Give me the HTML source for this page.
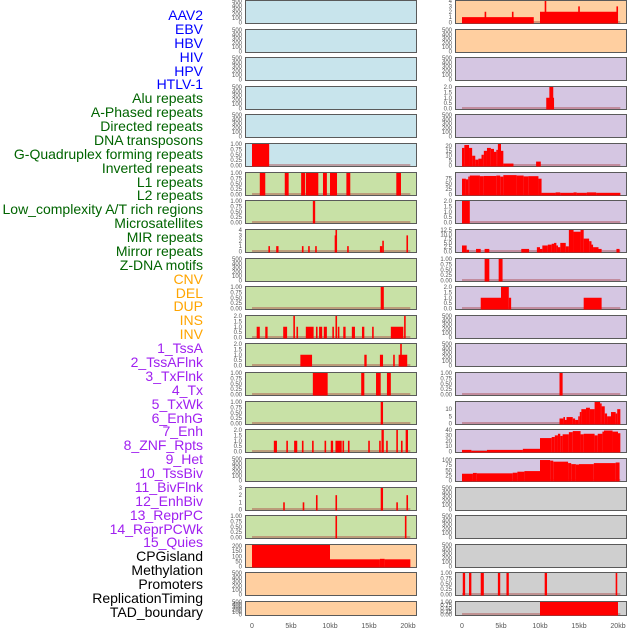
<!DOCTYPE html>
<html><head><meta charset="utf-8"><style>
html,body{margin:0;padding:0;background:#fff;}
#wrap{position:relative;width:630px;height:630px;overflow:hidden;font-family:"Liberation Sans",sans-serif;}
.lab{position:absolute;right:427px;font-size:14px;line-height:14px;white-space:nowrap;}
svg{position:absolute;left:0;top:0;}
</style></head><body>
<div id="wrap">
<svg id="chart" width="630" height="630"></svg>
</div>
<script>
// Feature labels
const labels = ["AAV2","EBV","HBV","HIV","HPV","HTLV-1","Alu repeats","A-Phased repeats","Directed repeats","DNA transposons","G-Quadruplex forming repeats","Inverted repeats","L1 repeats","L2 repeats","Low_complexity A/T rich regions","Microsatellites","MIR repeats","Mirror repeats","Z-DNA motifs","CNV","DEL","DUP","INS","INV","1_TssA","2_TssAFlnk","3_TxFlnk","4_Tx","5_TxWk","6_EnhG","7_Enh","8_ZNF_Rpts","9_Het","10_TssBiv","11_BivFlnk","12_EnhBiv","13_ReprPC","14_ReprPCWk","15_Quies","CPGisland","Methylation","Promoters","ReplicationTiming","TAD_boundary"];
const labelColors = {virus:"#0000ff",rep:"#006400",cnv:"#ffa500",st:"#a020f0",oth:"#000000"};
const xTicks = [0,5,10,15,20];
const xTickLabels = ["0","5kb","10kb","15kb","20kb"];
// bars: [startKb, endKb, value]
const L5 = [[0,2.2,1]];
const L6 = [[1.0,1.7,1],[4.2,4.7,1],[6.3,6.8,1],[6.9,8.5,1],[9.1,9.6,1],[10,10.9,1],[12.1,12.6,1],[18.5,19.1,1]];
const L7 = [[7.8,8.1,1]];
const L8 = [[2.1,2.3,1],[3.1,3.4,1],[6.4,6.6,1],[7.2,7.4,1],[8.1,8.3,1],[10.6,10.7,3],[10.7,10.9,4],[12.2,12.4,1],[16.4,16.7,1],[16.7,16.9,2],[19.8,20,3]];
const L10 = [[16.5,16.9,1]];
const L11 = [[0.6,1.0,1],[1.7,2.0,1],[4.0,4.5,1],[5.3,5.5,2],[5.7,5.9,1],[6.9,7.9,1],[8.2,8.4,1],[8.6,9.0,1],[9.2,9.6,1],[10.3,10.5,1],[10.7,10.9,2],[11.0,11.2,1],[11.7,12.0,1],[12.8,13.2,1],[14.1,14.4,1],[15.4,15.6,1],[17.8,19.4,1],[19.5,19.7,2]];
const L12 = [[6.2,7.7,1],[14.4,14.7,1],[16.4,16.8,1],[18.1,18.3,1],[18.8,19.9,1],[19.0,19.2,2]];
const L13 = [[7.8,9.7,1],[14.0,14.4,1],[15.9,16.5,1],[17.3,17.8,1]];
const L14 = [[16.5,16.8,1]];
const L15 = [[2.8,3.2,1],[4.4,4.6,1],[5.4,5.8,1],[6.4,6.6,1],[7.7,7.9,1],[9.3,9.5,1],[10.1,10.4,1],[10.7,11.5,1],[11.6,11.8,1],[12.3,12.5,1],[14.9,15.1,1],[16.3,16.5,1],[16.6,16.9,2],[17.2,17.4,1],[18.5,18.7,2],[19.1,19.3,1],[19.7,20,2]];
const L17 = [[4.0,4.2,1],[6.5,6.7,1],[8.2,8.4,2],[10.7,10.9,2],[16.5,16.8,3],[18.5,18.7,1],[19.8,20,2]];
const L18 = [[10.7,10.9,1],[19.6,19.8,1]];
const L19 = [[0,10,210],[10,16.4,70],[16.4,17,75],[17,20.3,70]];
const R0 = [[0,9.2,1],[2.9,3.1,2],[6.4,6.6,2],[10,20,2],[10.6,10.8,4],[14.9,15.1,3],[19.8,20,3]];
const R3 = [[10.8,11.8,1],[11.2,11.7,2]];
const R5 = [[0,0.3,18],[0.3,0.9,21],[0.9,1.3,18],[1.3,1.7,10],[1.7,2.1,6],[2.1,2.5,7],[2.5,2.8,11],[2.8,3.2,15],[3.2,3.7,18],[3.7,4.1,17],[4.1,4.4,14],[4.4,4.6,16],[4.6,5.0,22],[5.0,5.3,15],[5.3,6.6,2],[9.5,10.1,4]];
const R6 = [[0,0.5,75],[0.5,0.8,72],[0.8,1.0,85],[1.0,2.3,90],[2.3,2.8,87],[2.8,4.4,88],[4.4,4.9,90],[4.9,5.3,85],[5.3,7.0,92],[7.0,7.9,90],[7.9,8.5,86],[8.5,9.8,87],[9.8,10.2,75],[10.2,12,8],[12,12.6,10],[12.6,14.3,8],[14.3,14.7,10],[14.7,16,8],[16,17.2,10],[17.2,20.3,8]];
const R7 = [[0,1,2]];
const R8 = [[0,0.6,3.5],[0.6,0.9,1],[1.8,2.4,1.5],[2.9,3.5,1.5],[7.6,8.6,1.5],[9.6,10,2.5],[10,10.3,1.5],[10.3,11,3.5],[11,11.5,4],[11.5,11.8,4.5],[11.8,12.1,5],[12.1,12.3,3.5],[12.3,12.6,2.5],[12.6,13.3,5],[13.3,13.7,3],[13.7,14.3,12.5],[14.3,15.2,11.5],[15.2,15.6,12.5],[15.6,16.3,7.5],[16.3,16.6,6],[16.6,16.8,4],[16.8,17.5,2.5],[17.5,17.9,1.5],[19.8,20.2,1.5]];
const R9 = [[2.9,3.5,1],[4.7,5.2,1]];
const R10 = [[2.4,5,1],[5,6,2],[6,6.3,1],[15.6,17.9,1]];
const R13 = [[12.5,12.9,1]];
const R14 = [[12.5,13,3.5],[13,13.2,4.5],[13.2,13.4,2.5],[13.4,14.2,4.5],[14.2,14.5,3.5],[14.5,14.9,2.5],[14.9,15.1,5],[15.1,15.3,8],[15.3,15.9,10],[15.9,16.4,11],[16.4,17,10],[17,17.7,15],[17.7,17.9,14],[17.9,18.3,12],[18.3,18.6,7],[18.6,19.1,5],[19.1,19.7,8],[19.7,19.9,7],[19.9,20.3,10]];
const R15 = [[0,1.2,3],[1.2,3.2,1],[3.2,7.8,3],[7.8,10,5],[10,11.5,25],[11.5,11.9,27],[11.9,12.3,30],[12.3,12.6,33],[12.6,12.9,29],[12.9,13.7,32],[13.7,14.2,36],[14.2,15.2,38],[15.2,15.6,32],[15.6,17,33],[17,17.4,30],[17.4,18,33],[18,18.2,37],[18.2,19.3,39],[19.3,20,37],[20,20.3,34]];
const R16 = [[0,1.4,33],[1.4,1.9,37],[1.9,6.5,35],[6.5,7.1,38],[7.1,8,43],[8,10,46],[10,11.3,100],[11.3,11.7,97],[11.7,13.6,92],[13.6,14,85],[14,14.6,80],[14.6,15,78],[15,16.9,80],[16.9,19.7,85],[19.7,20.2,88]];
const R20 = [[0.1,0.4,1],[0.9,1.2,1],[2.4,2.8,1],[4.6,4.9,1],[5.7,6.0,1],[10.6,10.9,1],[19.7,19.9,1]];
const R21 = [[10,20,1]];

const BLUE="#c8e4ec",GREEN="#c8e1a6",ORANGE="#ffcfa0",PURPLE="#d5c6e2",GREY="#cfcfcf";
const T500=[0,100,200,300,400,500], T1=[0,0.25,0.5,0.75,1], T2=[0,0.5,1,1.5,2];
const leftBg=[BLUE,BLUE,BLUE,BLUE,BLUE,BLUE,GREEN,GREEN,GREEN,GREEN,GREEN,GREEN,GREEN,GREEN,GREEN,GREEN,GREEN,GREEN,GREEN,ORANGE,ORANGE,ORANGE];
const rightBg=[ORANGE,ORANGE,PURPLE,PURPLE,PURPLE,PURPLE,PURPLE,PURPLE,PURPLE,PURPLE,PURPLE,PURPLE,PURPLE,PURPLE,PURPLE,PURPLE,PURPLE,GREY,GREY,GREY,GREY,GREY];
const leftData=[null,null,null,null,null,L5,L6,L7,L8,null,L10,L11,L12,L13,L14,L15,null,L17,L18,L19,null,null];
const rightData=[R0,null,null,R3,null,R5,R6,R7,R8,R9,R10,null,null,R13,R14,R15,R16,null,null,null,R20,R21];
const leftTicks=[T500,T500,T500,T500,T500,T1,T1,T1,[0,1,2,3,4],T500,T1,T2,T2,T1,T1,T2,T500,[0,1,2,3],T1,[0,50,100,150,200],T500,T500];
const leftMax=[500,500,500,500,500,1,1,1,4,500,1,2,2,1,1,2,500,3,1,210,500,500];
const rightTicks=[[0,1,2,3,4],T500,T500,T2,T500,[0,5,10,15,20],[0,25,50,75],T2,[0,2.5,5,7.5,10,12.5],T1,T2,T500,T500,T1,[0,5,10],[0,10,20,30,40],[0,25,50,75,100],T500,T500,T500,T1,T1];
const rightMax=[4,500,500,2,500,22,102,2,12.5,1,2,500,500,1,15,40,105,500,500,500,1,1];
const tickFmt={};

const svg=document.getElementById('chart');
const NS="http://www.w3.org/2000/svg";
function mk(tag,attrs){const e=document.createElementNS(NS,tag);for(const k in attrs)e.setAttribute(k,attrs[k]);return e;}
function rowTop(i){return Math.round(i*28.62);}
function rowH(i){return i===21?15:24;}
function fmt(v,ticks){
  const maxT=ticks[ticks.length-1];
  if(ticks.includes(0.25)) return v.toFixed(2);
  if(ticks.includes(0.5)||ticks.includes(2.5)) return v.toFixed(1);
  return String(v);
}
function drawCol(colX0,frameL,frameR,bgs,datas,ticksArr,maxes,side){
  const xs=kb=>colX0+kb*7.8;
  for(let i=0;i<22;i++){
    const top=rowTop(i),h=rowH(i);
    const y0=top+h-1.5,y1=top+1;
    const ys=v=>y0-(v/maxes[i])*(y0-y1);
    const g=mk('g',{});
    
    
    const r=mk('rect',{x:frameL+0.5,y:top+0.5,width:frameR-frameL-1,height:h-1,fill:bgs[i],stroke:'#5a5a5a','stroke-width':1});
    
    
    g.appendChild(r);
    const d=datas[i];
    if(d){
      const bl=mk('line',{x1:xs(0),x2:xs(20.3),y1:y0-0.5,y2:y0-0.5,stroke:'rgba(170,60,60,0.55)','stroke-width':1.5});
      
      
      g.appendChild(bl);
      d.forEach(b=>{
        const x=xs(b[0]),w=Math.max(1.6,xs(b[1])-xs(b[0]));
        const yt=Math.max(y1,ys(b[2]));
        const rb=mk('rect',{x:x,y:yt,width:w,height:y0-yt+1,fill:'#ff0000'});
        
        
        g.appendChild(rb);
      });
    }
    ticksArr[i].forEach(t=>{
      const y=ys(t);
      const tx=mk('text',{x:frameL-3,y:y+2,'text-anchor':'end','font-size':6,fill:'#555','font-family':'Liberation Sans, sans-serif'});
      tx.textContent=fmt(t,ticksArr[i]);
      
      
      g.appendChild(tx);
    });
    svg.appendChild(g);
  }
  xTicks.forEach((t,k)=>{
    const tx=mk('text',{x:xs(t),y:628,'text-anchor':'middle','font-size':7,fill:'#555','font-family':'Liberation Sans, sans-serif'});
    tx.textContent=xTickLabels[k];
    
    
    svg.appendChild(tx);
  });
}
drawCol(252,245,417,leftBg,leftData,leftTicks,leftMax,'left');
drawCol(462,455,627,rightBg,rightData,rightTicks,rightMax,'right');

const wrap=document.getElementById('wrap');
labels.forEach((s,i)=>{
  let c=labelColors.oth;
  if(i<6)c=labelColors.virus;else if(i<19)c=labelColors.rep;else if(i<24)c=labelColors.cnv;else if(i<39)c=labelColors.st;
  const d=document.createElement('div');
  d.className='lab';
  d.style.top=(8+i*13.88)+'px';
  d.style.color=c;
  d.textContent=s;
  
  
  wrap.appendChild(d);
});
</script>
</body></html>
